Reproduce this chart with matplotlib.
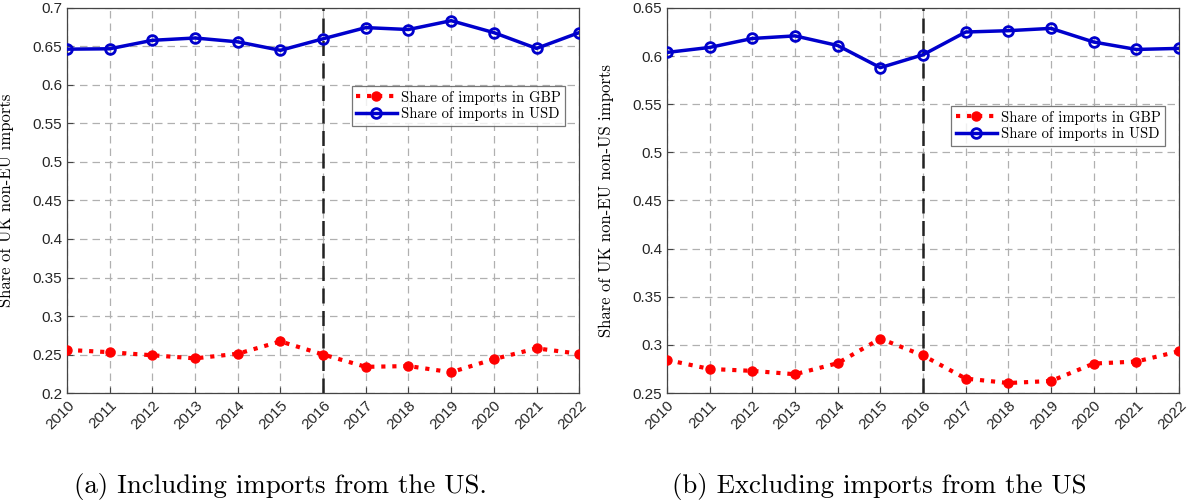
import numpy as np
import matplotlib
matplotlib.use("Agg")
import matplotlib.pyplot as plt

# datos
years = [2010, 2011, 2012, 2013, 2014, 2015, 2016, 2017, 2018, 2019, 2020, 2021, 2022]

# (a) incluyendo importaciones de EEUU
gbp_a = [0.256, 0.253, 0.249, 0.245, 0.251, 0.267, 0.250, 0.234, 0.235, 0.227, 0.244, 0.258, 0.251]
usd_a = [0.6465, 0.647, 0.658, 0.661, 0.656, 0.645, 0.660, 0.6745, 0.672, 0.6835, 0.668, 0.6475, 0.668]

# (b) excluyendo importaciones de EEUU
gbp_b = [0.2844, 0.275, 0.273, 0.2695, 0.281, 0.3065, 0.289, 0.265, 0.2604, 0.2625, 0.2806, 0.2827, 0.2934]
usd_b = [0.6038, 0.609, 0.6183, 0.621, 0.611, 0.588, 0.6014, 0.625, 0.6264, 0.6288, 0.6146, 0.6069, 0.608]

ylabels = ["Share of UK non-EU imports", "Share of UK non-EU non-US imports"]
captions = ["(a) Including imports from the US.", "(b) Excluding imports from the US"]
yticks_a = [0.2, 0.25, 0.3, 0.35, 0.4, 0.45, 0.5, 0.55, 0.6, 0.65, 0.7]
yticks_b = [0.25, 0.3, 0.35, 0.4, 0.45, 0.5, 0.55, 0.6, 0.65]

serif = "cmr10"
sans = "Liberation Sans"

fig = plt.figure(figsize=(11.91, 5.04), dpi=100)
ax_a = fig.add_axes([0.0563, 0.2202, 0.43, 0.764])
ax_b = fig.add_axes([0.560, 0.2202, 0.43, 0.764])

panels = [
    (ax_a, gbp_a, usd_a, yticks_a, ylabels[0], (0.973, 0.797)),
    (ax_b, gbp_b, usd_b, yticks_b, ylabels[1], (0.973, 0.745)),
]

for ax, gbp, usd, yt, ylab, legpos in panels:
    ax.plot(years, gbp, color="red", linestyle=":", linewidth=3, marker="o",
            markersize=6.5, markerfacecolor="red", markeredgecolor="red",
            label="Share of imports in GBP", zorder=3)
    ax.plot(years, usd, color="#0000cc", linestyle="-", linewidth=2.5, marker="o",
            markersize=7, markerfacecolor="none", markeredgecolor="#0000cc",
            markeredgewidth=2, label="Share of imports in USD", zorder=3)
    ax.axvline(2016, color="#222222", linestyle=(0, (6, 3)), linewidth=1.8, zorder=2)

    ax.set_xlim(years[0], years[-1])
    ax.set_ylim(yt[0], yt[-1])
    ax.set_xticks(years)
    ax.set_xticklabels([str(y) for y in years], rotation=45, ha="right",
                       rotation_mode="anchor", fontsize=11, family=sans)
    ax.set_yticks(yt)
    ax.set_yticklabels([f"{v:g}" for v in yt], fontsize=11, family=sans)
    ax.tick_params(direction="in", length=4, color="#444444", labelcolor="#262626")
    ax.grid(True, color="#b0b0b0", linestyle=(0, (6, 4)), linewidth=0.9)
    for s in ax.spines.values():
        s.set_color("#444444")
        s.set_linewidth(0.9)
    ax.set_ylabel(ylab, family=serif, fontsize=12)
    ax.yaxis.set_label_coords(-0.103, 0.5)

    leg = ax.legend(loc="upper right", bbox_to_anchor=legpos, prop={"family": serif, "size": 10.5},
                    frameon=True, fancybox=False, edgecolor="#555555", borderpad=0.3,
                    handlelength=2.8, labelspacing=0.2, handletextpad=0.3, borderaxespad=0)
    leg.get_frame().set_linewidth(0.9)

# pies de figura, ajustados al ancho que ocupan en la imagen original
cap_left = [74 / 1191, 672 / 1191]
cap_width = [412, 414]
fig.canvas.draw()
for cap, x0, wpx in zip(captions, cap_left, cap_width):
    t = fig.text(x0, 0.0357, cap, ha="left", va="center", family=serif, fontsize=14)
    fig.canvas.draw()
    w = t.get_window_extent().width
    t.set_fontsize(14 * wpx / w)

fig.savefig("out.png", dpi=100)
